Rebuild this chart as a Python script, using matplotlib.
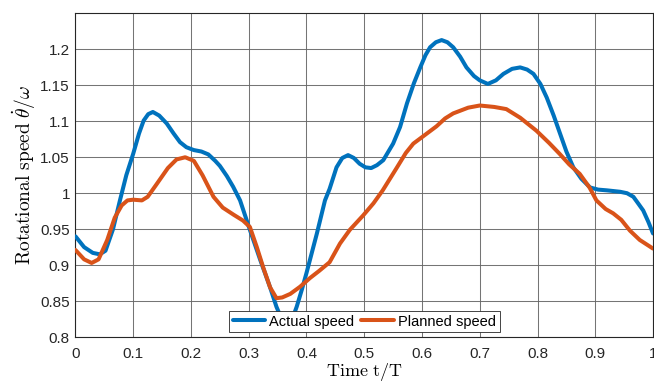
import numpy as np
import matplotlib
matplotlib.use("Agg")
import matplotlib.pyplot as plt

plt.rcParams['font.family'] = ['Liberation Sans', 'DejaVu Sans']
plt.rcParams['mathtext.fontset'] = 'cm'

# Actual speed
t_actual = [0.000, 0.015, 0.030, 0.042, 0.052, 0.065, 0.077, 0.088, 0.100, 0.110,
            0.118, 0.126, 0.134, 0.145, 0.158, 0.170, 0.181, 0.192, 0.205, 0.218,
            0.230, 0.242, 0.250, 0.262, 0.273, 0.285, 0.302, 0.320, 0.337, 0.348,
            0.358, 0.366, 0.374, 0.383, 0.392, 0.400, 0.418, 0.432, 0.440, 0.452,
            0.462, 0.472, 0.482, 0.492, 0.502, 0.512, 0.522, 0.533, 0.550, 0.562,
            0.574, 0.586, 0.597, 0.606, 0.614, 0.624, 0.634, 0.644, 0.654, 0.666,
            0.677, 0.690, 0.700, 0.714, 0.728, 0.741, 0.756, 0.770, 0.782, 0.793,
            0.805, 0.816, 0.828, 0.839, 0.850, 0.862, 0.876, 0.891, 0.905, 0.920,
            0.943, 0.955, 0.966, 0.975, 0.983, 0.992, 1.000]
v_actual = [0.940, 0.925, 0.917, 0.915, 0.920, 0.950, 0.990, 1.025, 1.055, 1.083,
            1.101, 1.110, 1.113, 1.108, 1.097, 1.083, 1.071, 1.064, 1.060, 1.058,
            1.054, 1.045, 1.038, 1.024, 1.009, 0.990, 0.949, 0.907, 0.869, 0.842,
            0.823, 0.815, 0.822, 0.842, 0.866, 0.889, 0.944, 0.990, 1.006, 1.036,
            1.049, 1.053, 1.049, 1.041, 1.036, 1.035, 1.039, 1.046, 1.069, 1.092,
            1.125, 1.153, 1.175, 1.192, 1.203, 1.210, 1.213, 1.210, 1.203, 1.190,
            1.175, 1.163, 1.157, 1.152, 1.157, 1.166, 1.173, 1.175, 1.172, 1.166,
            1.152, 1.133, 1.108, 1.083, 1.058, 1.036, 1.020, 1.008, 1.005, 1.004,
            1.002, 1.000, 0.995, 0.985, 0.976, 0.960, 0.944]

# Planned speed
t_planned = [0.000, 0.015, 0.028, 0.040, 0.055, 0.068, 0.080, 0.090, 0.100, 0.115,
             0.125, 0.140, 0.160, 0.175, 0.190, 0.205, 0.220, 0.239, 0.255, 0.274,
             0.290, 0.302, 0.314, 0.325, 0.337, 0.348, 0.358, 0.372, 0.389, 0.406,
             0.422, 0.440, 0.458, 0.475, 0.498, 0.516, 0.532, 0.556, 0.572, 0.585,
             0.605, 0.625, 0.640, 0.654, 0.680, 0.700, 0.725, 0.746, 0.770, 0.798,
             0.820, 0.838, 0.855, 0.873, 0.890, 0.902, 0.918, 0.931, 0.945, 0.960,
             0.977, 1.000]
v_planned = [0.921, 0.908, 0.903, 0.908, 0.935, 0.966, 0.983, 0.990, 0.991, 0.990,
             0.995, 1.012, 1.035, 1.047, 1.050, 1.045, 1.025, 0.995, 0.980, 0.970,
             0.962, 0.953, 0.925, 0.897, 0.869, 0.854, 0.855, 0.860, 0.870, 0.882,
             0.892, 0.904, 0.930, 0.949, 0.969, 0.986, 1.004, 1.035, 1.056, 1.069,
             1.081, 1.093, 1.104, 1.111, 1.119, 1.122, 1.120, 1.117, 1.105, 1.087,
             1.070, 1.055, 1.040, 1.027, 1.008, 0.990, 0.978, 0.972, 0.963, 0.948,
             0.935, 0.923]

xticks = np.arange(0, 1.01, 0.1)
xticklabels = ['0', '0.1', '0.2', '0.3', '0.4', '0.5', '0.6', '0.7', '0.8', '0.9', '1']
yticks = np.arange(0.8, 1.201, 0.05)
yticklabels = ['0.8', '0.85', '0.9', '0.95', '1', '1.05', '1.1', '1.15', '1.2']

fig = plt.figure(figsize=(6.54, 3.82), dpi=100)
ax = fig.add_axes([0.1154, 0.1178, 0.8831, 0.8469])

ax.plot(t_actual, v_actual, color='#0072BD', lw=2.9, solid_joinstyle='round',
        solid_capstyle='round', label='Actual speed', zorder=3)
ax.plot(t_planned, v_planned, color='#D95319', lw=2.9, solid_joinstyle='round',
        solid_capstyle='round', label='Planned speed', zorder=3)

ax.set_xlim(0, 1)
ax.set_ylim(0.8, 1.25)
ax.set_xticks(xticks)
ax.set_xticklabels(xticklabels)
ax.set_yticks(yticks)
ax.set_yticklabels(yticklabels)
ax.tick_params(axis='both', direction='in', length=0, labelsize=11, colors='#262626')
ax.tick_params(axis='x', pad=7)
ax.tick_params(axis='y', pad=4)
ax.grid(True, color='#666666', lw=0.75, alpha=0.9)
ax.set_axisbelow(True)
for s in ax.spines.values():
    s.set_color('#262626')
    s.set_linewidth(0.8)

ax.set_xlabel(r'$\mathrm{Time\ t/T}$', fontsize=13, labelpad=0.5)
ax.set_ylabel(r'$\mathrm{Rotational\ speed}\ \dot{\theta}/\omega$', fontsize=14, labelpad=2)

leg = ax.legend(loc='lower center', bbox_to_anchor=(0.5, 0.015), ncol=2, fontsize=10.5,
                frameon=True, fancybox=False, handlelength=2.2, handletextpad=0.3,
                columnspacing=0.5, borderpad=0.25, borderaxespad=0)
leg.get_frame().set_edgecolor('#262626')
leg.get_frame().set_linewidth(0.6)
leg.get_frame().set_alpha(1)

fig.savefig('out.png', dpi=100)
